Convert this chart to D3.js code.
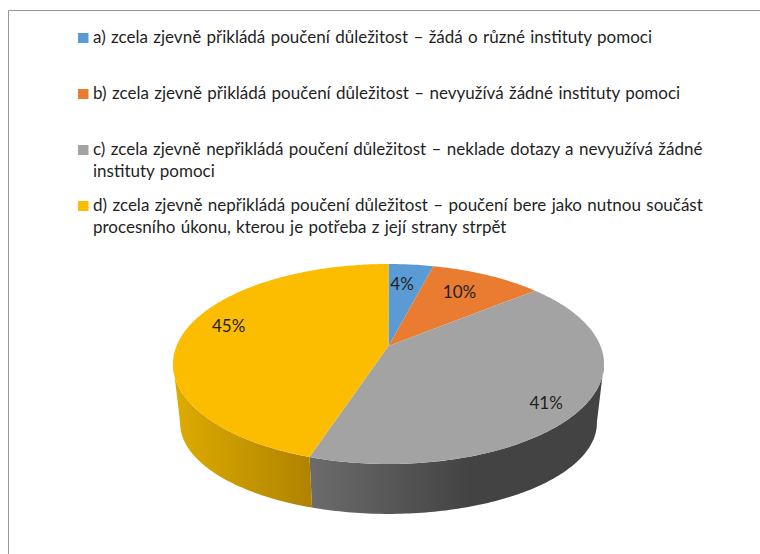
<!DOCTYPE html>
<html>
<head>
<meta charset="utf-8">
<script src="https://cdn.jsdelivr.net/npm/d3@7"></script>
<style>
  html, body { margin: 0; padding: 0; background: #fff; }
  svg { display: block; }
  text { font-family: Lato, "Open Sans", sans-serif; fill: #1f1f1f; }
</style>
</head>
<body>
<div id="chart"></div>
<script>
const categories = ['a', 'b', 'c', 'd'];
const values = [4, 10, 41, 45];
const valueLabels = ['4%', '10%', '41%', '45%'];
const legendLines = [
  ['a) zcela zjevně přikládá poučení důležitost – žádá o různé instituty pomoci'],
  ['b) zcela zjevně přikládá poučení důležitost – nevyužívá žádné instituty pomoci'],
  ['c) zcela zjevně nepřikládá poučení důležitost – neklade dotazy a nevyužívá žádné', 'instituty pomoci'],
  ['d) zcela zjevně nepřikládá poučení důležitost – poučení bere jako nutnou součást', 'procesního úkonu, kterou je potřeba z její strany strpět']
];
const colors = ['#5b9bd5', '#ea7c31', '#a3a3a3', '#fcbc00'];

const width = 760;
const height = 554;

const svg = d3.select('#chart').append('svg')
  .attr('width', width)
  .attr('height', height);

// frame, only top and left are inside the crop
svg.append('path')
  .attr('d', d3.line()([[8.5, height], [8.5, 10.5], [width, 10.5]]))
  .attr('fill', 'none')
  .attr('stroke', '#979797');

// legend
const legendTop = [37, 93, 149, 205];
const legendColor = d3.scaleOrdinal().domain(categories).range(colors);
const legend = svg.selectAll('.legend')
  .data(categories)
  .enter()
  .append('g')
  .attr('class', 'legend')
  .attr('transform', (d, i) => 'translate(78,' + legendTop[i] + ')');

legend.append('rect')
  .attr('y', -4)
  .attr('width', 10.5)
  .attr('height', 10)
  .attr('fill', (d) => legendColor(d));

legend.each(function (d, i) {
  d3.select(this).selectAll('text')
    .data(legendLines[i])
    .enter()
    .append('text')
    .attr('x', 15)
    .attr('y', (l, j) => 6 + j * 22)
    .style('font-size', '17px')
    .style('word-spacing', '1px')
    .text((l) => l);
});

// 3d pie: plane circle goes through a perspective map, so the apex sits above the ellipse middle
const tilt = 0.18;
const topFace = { cx: 388.5, apex: 346, rx: 212, ry: 96.76 };
const bottomFace = { cx: 388.5, apex: 406.6, rx: 205, ry: 88 };

function project(face, angle, r) {
  const u = r * Math.sin(angle);
  const v = -r * Math.cos(angle);
  const s = 1 / (1 - tilt * v);
  return [face.cx + face.rx * u * s, face.apex + face.ry * v * s];
}

function arcPoints(face, a0, a1) {
  const n = Math.max(2, Math.ceil(Math.abs(a1 - a0) * 60));
  return d3.range(n + 1).map((i) => project(face, a0 + (a1 - a0) * i / n, 1));
}

const slices = d3.pie().sort(null)(values);
const line = d3.line();
const defs = svg.append('defs');

// visible part of the wall
const wallStart = 100 * Math.PI / 180;
const wallEnd = 260 * Math.PI / 180;
const wallStops = [
  { i: 2, from: '#6c6c6c', to: '#434343', span: 160 },
  { i: 3, from: '#b08300', to: '#dcaa00', span: -130 }
];

wallStops.forEach((w) => {
  const s = slices[w.i];
  const a0 = Math.max(s.startAngle, wallStart);
  const a1 = Math.min(s.endAngle, wallEnd);
  const x0 = project(topFace, w.i === 2 ? a1 : a0, 1)[0];
  const grad = defs.append('linearGradient')
    .attr('id', 'wall' + w.i)
    .attr('gradientUnits', 'userSpaceOnUse')
    .attr('x1', x0)
    .attr('x2', x0 + w.span)
    .attr('y1', 0)
    .attr('y2', 0);
  grad.append('stop').attr('offset', 0).attr('stop-color', w.from);
  grad.append('stop').attr('offset', 1).attr('stop-color', w.to);
  const pts = arcPoints(topFace, a0, a1).concat(arcPoints(bottomFace, a1, a0));
  svg.append('path')
    .attr('d', line(pts) + 'Z')
    .attr('fill', 'url(#wall' + w.i + ')');
});

// top face
svg.selectAll('.slice')
  .data(slices)
  .enter()
  .append('path')
  .attr('class', 'slice')
  .attr('d', (d) => line([[topFace.cx, topFace.apex]].concat(arcPoints(topFace, d.startAngle, d.endAngle))) + 'Z')
  .attr('fill', (d, i) => colors[i]);

// data labels
const labelNudge = [[-5, 5], [-10, 4], [5, 9], [4, -9]];
svg.selectAll('.value')
  .data(slices)
  .enter()
  .append('text')
  .attr('class', 'value')
  .attr('text-anchor', 'middle')
  .attr('dominant-baseline', 'central')
  .style('font-size', '17px')
  .attr('x', (d, i) => project(topFace, (d.startAngle + d.endAngle) / 2, 0.8)[0] + labelNudge[i][0])
  .attr('y', (d, i) => project(topFace, (d.startAngle + d.endAngle) / 2, 0.8)[1] + labelNudge[i][1])
  .text((d, i) => valueLabels[i]);
</script>
</body>
</html>
